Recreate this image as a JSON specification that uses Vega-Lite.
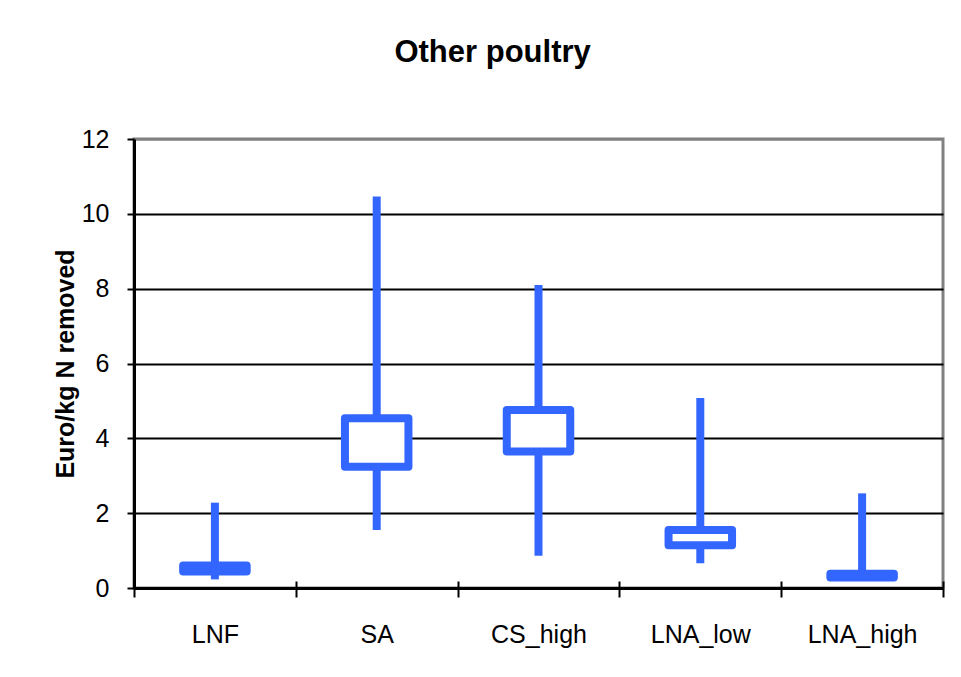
{
  "$schema": "https://vega.github.io/schema/vega-lite/v6.json",
  "width": 809,
  "height": 449,
  "autosize": {"type": "none"},
  "padding": {"left": 134, "top": 139, "right": 18, "bottom": 89},
  "background": "white",
  "title": {
    "text": "Other poultry",
    "font": "Liberation Sans",
    "fontSize": 31,
    "fontWeight": "bold",
    "color": "black",
    "anchor": "middle",
    "frame": "bounds",
    "baseline": "alphabetic",
    "offset": 34,
    "dx": -6
  },
  "config": {
    "view": {"stroke": "#808080", "strokeWidth": 3},
    "font": "Liberation Sans"
  },
  "data": {
    "values": [
      {"scenario": "LNF", "min": 0.23, "q1": 0.44, "q3": 0.60, "max": 2.28},
      {"scenario": "SA", "min": 1.55, "q1": 3.24, "q3": 4.54, "max": 10.46},
      {"scenario": "CS_high", "min": 0.86, "q1": 3.65, "q3": 4.76, "max": 8.10},
      {"scenario": "LNA_low", "min": 0.66, "q1": 1.14, "q3": 1.55, "max": 5.08},
      {"scenario": "LNA_high", "min": 0.28, "q1": 0.28, "q3": 0.38, "max": 2.53}
    ]
  },
  "resolve": {"axis": {"x": "independent", "y": "independent"}},
  "layer": [
    {
      "mark": {"type": "rule", "color": "#3366FF", "strokeWidth": 8, "strokeCap": "butt"},
      "encoding": {
        "x": {
          "field": "scenario",
          "type": "nominal",
          "sort": null,
          "scale": {"paddingInner": 0, "paddingOuter": 0},
          "axis": {
            "orient": "bottom",
            "title": null,
            "labelAngle": 0,
            "labelFont": "Liberation Sans",
            "labelFontSize": 25,
            "labelColor": "black",
            "labelPadding": 25,
            "tickBand": "extent",
            "tickSize": 9,
            "tickWidth": 2,
            "tickColor": "black",
            "domainColor": "black",
            "domainWidth": 3,
            "grid": false
          }
        },
        "y": {
          "field": "min",
          "type": "quantitative",
          "scale": {"domain": [0, 12], "nice": false, "zero": true},
          "axis": {
            "orient": "left",
            "values": [0, 2, 4, 6, 8, 10, 12],
            "title": "Euro/kg N removed",
            "titleFont": "Liberation Sans",
            "titleFontSize": 25,
            "titleFontWeight": "bold",
            "titleColor": "black",
            "titlePadding": 3,
            "labelFont": "Liberation Sans",
            "labelFontSize": 25,
            "labelColor": "black",
            "labelPadding": 18,
            "tickSize": 7,
            "tickWidth": 2,
            "tickColor": "black",
            "domainColor": "black",
            "domainWidth": 3,
            "grid": true,
            "gridWidth": 2,
            "gridColor": {"condition": {"test": "datum.value === 12", "value": "#808080"}, "value": "black"}
          }
        },
        "y2": {"field": "max"}
      }
    },
    {
      "mark": {"type": "bar", "fill": "white", "stroke": "#3366FF", "strokeWidth": 8, "strokeJoin": "round", "size": 63.5},
      "encoding": {
        "x": {
          "field": "scenario",
          "type": "nominal",
          "sort": null,
          "axis": {
            "orient": "top",
            "offset": -449,
            "labels": false,
            "domain": false,
            "grid": false,
            "title": null,
            "tickBand": "extent",
            "tickSize": 7,
            "tickWidth": 2,
            "tickColor": "black"
          }
        },
        "y": {"field": "q1", "type": "quantitative", "axis": null},
        "y2": {"field": "q3"}
      }
    }
  ]
}
